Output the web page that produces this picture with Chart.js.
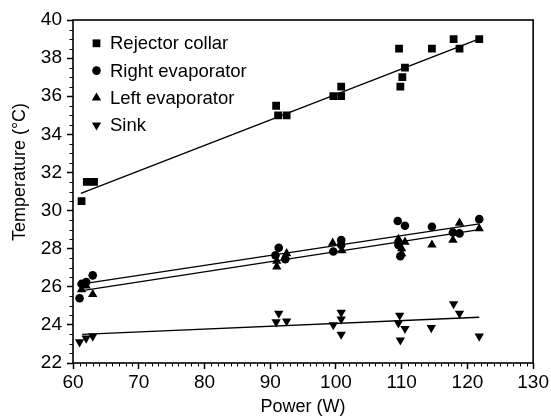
<!DOCTYPE html>
<html><head><meta charset="utf-8">
<script src="https://cdn.jsdelivr.net/npm/chart.js@4/dist/chart.umd.min.js"></script>
<style>html,body{margin:0;padding:0;background:#fff}#wrap{width:551px;height:418px}</style>
</head><body><div id="wrap"><canvas id="c" width="551" height="418"></canvas></div>
<script>
// ---- data ----
const seriesNames = ["Rejector collar", "Right evaporator", "Left evaporator", "Sink"];

const rejectorPower = [61.3, 62.1, 63.2, 90.9, 91.2, 92.5, 99.6, 100.8, 100.8, 109.6, 109.8, 110.1, 110.5, 114.6, 117.9, 118.8, 121.8];
const rejectorTemp  = [30.5, 31.5, 31.5, 35.5, 35.0, 35.0, 36.0, 36.0, 36.5, 38.5, 36.5, 37.0, 37.5, 38.5, 39.0, 38.5, 39.0];

const rightPower = [61.0, 61.3, 62.0, 63.0, 90.8, 91.3, 92.3, 99.6, 100.8, 100.8, 109.4, 110.5, 109.8, 109.5, 114.6, 117.8, 118.8, 121.8];
const rightTemp  = [25.4, 26.15, 26.25, 26.6, 27.65, 28.05, 27.45, 27.85, 28.45, 28.2, 29.45, 29.2, 27.6, 28.2, 29.15, 28.85, 28.8, 29.55];

const leftPower = [61.3, 62.0, 63.0, 91.0, 91.0, 92.5, 99.5, 100.9, 109.5, 110.5, 110.0, 110.0, 114.6, 117.8, 118.8, 121.8];
const leftTemp  = [25.85, 26.05, 25.6, 27.05, 27.35, 27.75, 28.3, 27.9, 28.5, 28.35, 28.0, 27.75, 28.2, 28.45, 29.35, 29.05];

const sinkPower = [61.0, 62.0, 63.0, 91.3, 90.9, 92.5, 100.8, 100.8, 99.6, 100.8, 109.7, 109.5, 110.5, 109.8, 114.5, 117.9, 118.8, 121.8];
const sinkTemp  = [23.1, 23.3, 23.4, 24.6, 24.15, 24.2, 24.65, 24.3, 24.0, 23.5, 24.5, 24.1, 23.8, 23.2, 23.85, 25.1, 24.6, 23.4];

// linear-fit lines (end points)
const rejectorFitPower = [61.2, 121.7], rejectorFitTemp = [30.9, 39.0];
const rightFitPower    = [61.4, 121.8], rightFitTemp    = [26.15, 29.3];
const leftFitPower     = [61.4, 121.8], leftFitTemp     = [25.8, 29.0];
const sinkFitPower     = [61.4, 121.8], sinkFitTemp     = [23.5, 24.4];

const xTicks = [60, 70, 80, 90, 100, 110, 120, 130];
const yTicks = [22, 24, 26, 28, 30, 32, 34, 36, 38, 40];
const xTitle = 'Power (W)';
const yTitle = 'Temperature (\u00B0C)';

// ---- build ----
const FONT = "'Liberation Sans', Arial, Helvetica, sans-serif";
const pts = (xs, ys) => xs.map((x, i) => ({x: x, y: ys[i]}));

const markerDefs = [
  {style: 'rect', radius: 5.5, rotation: 0},
  {style: 'circle', radius: 4.3, rotation: 0},
  {style: 'triangle', radius: 5.4, rotation: 0},
  {style: 'triangle', radius: 5.4, rotation: 180}
];
const scatterData = [pts(rejectorPower, rejectorTemp), pts(rightPower, rightTemp), pts(leftPower, leftTemp), pts(sinkPower, sinkTemp)];
const fitData = [pts(rejectorFitPower, rejectorFitTemp), pts(rightFitPower, rightFitTemp), pts(leftFitPower, leftFitTemp), pts(sinkFitPower, sinkFitTemp)];

const datasets = [];
fitData.forEach((d, i) => datasets.push({
  label: seriesNames[i] + ' fit', data: d, showLine: true, borderColor: '#000', borderWidth: 1.4,
  pointRadius: 0, fill: false, order: 2
}));
scatterData.forEach((d, i) => datasets.push({
  label: seriesNames[i], data: d, pointStyle: markerDefs[i].style, pointRadius: markerDefs[i].radius,
  pointRotation: markerDefs[i].rotation, backgroundColor: '#000', borderColor: '#000', borderWidth: 0,
  pointBorderWidth: 0, showLine: false, order: 1
}));

function drawMarker(ctx, style, radius, rotation, x, y) {
  if (Chart.helpers && Chart.helpers.drawPoint) {
    Chart.helpers.drawPoint(ctx, {pointStyle: style, radius: radius, rotation: rotation, borderWidth: 0}, x, y);
    return;
  }
  ctx.beginPath();
  if (style === 'rect') { const s = radius * Math.SQRT1_2; ctx.rect(x - s, y - s, 2 * s, 2 * s); }
  else if (style === 'circle') { ctx.arc(x, y, radius, 0, Math.PI * 2); }
  else {
    let a = rotation * Math.PI / 180;
    ctx.moveTo(x + Math.sin(a) * radius, y - Math.cos(a) * radius);
    a += 2 * Math.PI / 3; ctx.lineTo(x + Math.sin(a) * radius, y - Math.cos(a) * radius);
    a += 2 * Math.PI / 3; ctx.lineTo(x + Math.sin(a) * radius, y - Math.cos(a) * radius);
    ctx.closePath();
  }
  ctx.fill();
}

const decorPlugin = {
  id: 'decor',
  afterDraw(chart) {
    const ctx = chart.ctx, a = chart.chartArea;
    const xs = chart.scales.x, ys = chart.scales.y;
    ctx.save();
    ctx.strokeStyle = '#000';
    // minor ticks
    ctx.lineWidth = 1;
    ctx.beginPath();
    for (let v = xTicks[0] + 1; v < xTicks[xTicks.length - 1]; v++) {
      if (v % 10 === 0) continue;
      const px = Math.round(xs.getPixelForValue(v)) + 0.5;
      ctx.moveTo(px, a.bottom); ctx.lineTo(px, a.bottom + 3.5);
    }
    for (let k = yTicks[0] * 2 + 1; k < yTicks[yTicks.length - 1] * 2; k++) {
      if (k % 4 === 0) continue;
      const py = Math.round(ys.getPixelForValue(k / 2)) + 0.5;
      ctx.moveTo(a.left, py); ctx.lineTo(a.left - 3.5, py);
    }
    ctx.stroke();
    // frame
    ctx.lineWidth = 1.6;
    ctx.strokeRect(a.left, a.top, a.right - a.left, a.bottom - a.top);
    // y-axis title (placed as in the reference, slightly above the axis centre)
    ctx.fillStyle = '#000';
    ctx.font = '18px ' + FONT;
    ctx.textAlign = 'center';
    ctx.textBaseline = 'middle';
    ctx.save();
    ctx.translate(20, 172);
    ctx.rotate(-Math.PI / 2);
    ctx.fillText(yTitle, 0, 0);
    ctx.restore();
    // legend
    ctx.font = '18.5px ' + FONT;
    ctx.textAlign = 'left';
    seriesNames.forEach((name, i) => {
      const cy = a.top + 23.3 + i * 27.3;
      drawMarker(ctx, markerDefs[i].style, markerDefs[i].radius, markerDefs[i].rotation, a.left + 23.5, cy);
      ctx.fillText(name, a.left + 37, cy + 1);
    });
    ctx.restore();
  }
};

new Chart(document.getElementById('c'), {
  type: 'scatter',
  data: {datasets: datasets},
  options: {
    responsive: false, animation: false, devicePixelRatio: 1, events: [],
    layout: {padding: {top: 20, right: 15, left: 0, bottom: 0}},
    plugins: {legend: {display: false}, tooltip: {enabled: false}},
    scales: {
      x: {
        type: 'linear', min: xTicks[0], max: xTicks[xTicks.length - 1],
        afterBuildTicks: (s) => { s.ticks = xTicks.map(v => ({value: v})); },
        afterFit: (s) => { s.height = 55; },
        grid: {display: true, drawOnChartArea: false, drawTicks: true, tickLength: 6, tickColor: '#000', tickWidth: 1.5},
        border: {display: false},
        ticks: {color: '#000', font: {size: 19, family: FONT}, padding: 2, maxRotation: 0, autoSkip: false},
        title: {display: true, text: xTitle, color: '#000', font: {size: 18, family: FONT}, padding: {top: 0, bottom: 0}}
      },
      y: {
        type: 'linear', min: yTicks[0], max: yTicks[yTicks.length - 1],
        afterBuildTicks: (s) => { s.ticks = yTicks.map(v => ({value: v})); },
        afterFit: (s) => { s.width = 73; },
        grid: {display: true, drawOnChartArea: false, drawTicks: true, tickLength: 6, tickColor: '#000', tickWidth: 1.5},
        border: {display: false},
        ticks: {color: '#000', font: {size: 19, family: FONT}, padding: 5, autoSkip: false},
        title: {display: false}
      }
    }
  },
  plugins: [decorPlugin]
});
</script>
</body></html>
